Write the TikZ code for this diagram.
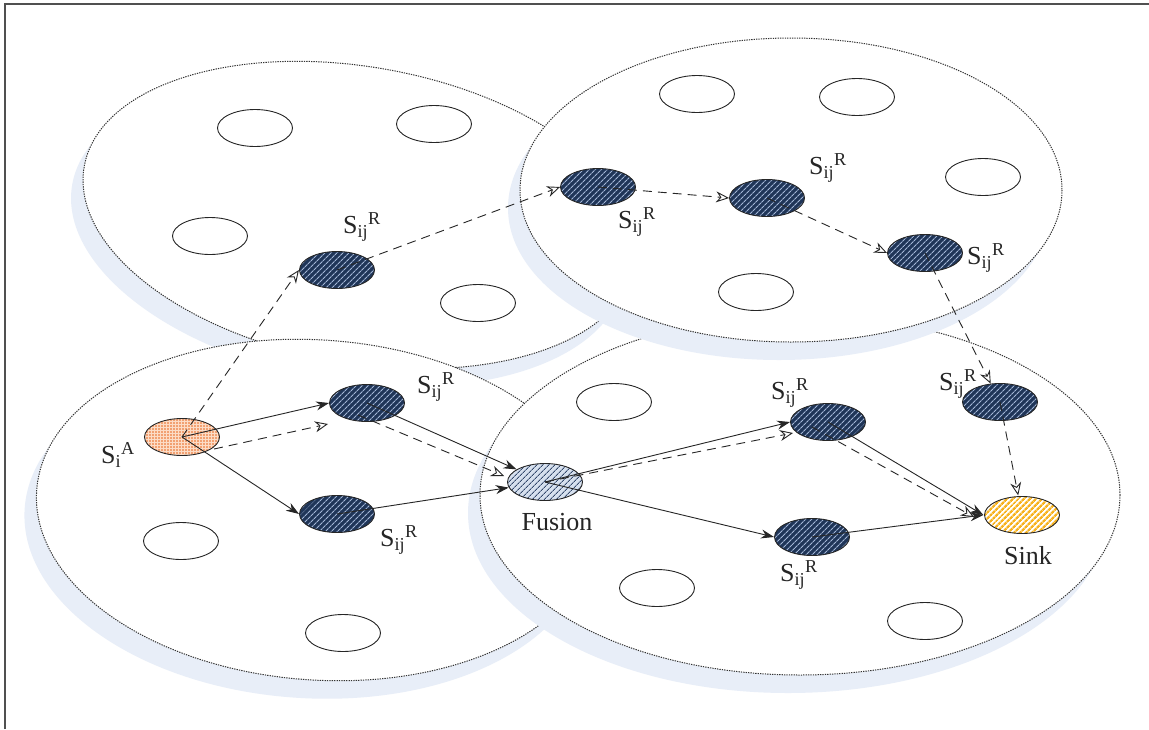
\documentclass[tikz,border=0pt]{standalone}
\usepackage{fontspec}
\setmainfont{Liberation Serif}
\usetikzlibrary{shapes.geometric,arrows.meta,patterns.meta,calc}
\definecolor{navy}{HTML}{1F3558}
\definecolor{navyline}{HTML}{A3B6D6}
\definecolor{shadowc}{HTML}{E8EEF8}
\definecolor{fusbase}{HTML}{D6E0EE}
\definecolor{fusline}{HTML}{34496C}
\definecolor{sinkc}{HTML}{F7B21E}
\definecolor{peach}{HTML}{FCDCC6}
\definecolor{dotc}{HTML}{E8661E}
\definecolor{framec}{HTML}{505050}
\newcommand\sijr{S\textsubscript{ij}\textsuperscript{R}}
\begin{document}
\begin{tikzpicture}[x=1pt,y=-1pt,
  region/.style={fill=white, draw=black!80, line width=1pt, dash pattern=on 1.3pt off 1.1pt},
  shadowfill/.style={fill=shadowc},
  nodebase/.style={ellipse, minimum width=75pt, minimum height=37pt, inner sep=0pt, draw=black!85, line width=0.9pt},
  emptynode/.style={nodebase, fill=white},
  relay/.style={nodebase, preaction={fill=navy}, pattern={Lines[angle=45,distance=4pt,line width=1.2pt]}, pattern color=navyline},
  fusionnode/.style={nodebase, preaction={fill=fusbase}, pattern={Lines[angle=45,distance=4pt,line width=1pt]}, pattern color=fusline},
  sinknode/.style={nodebase, preaction={fill=white}, pattern={Lines[angle=45,distance=4pt,line width=2.4pt]}, pattern color=sinkc},
  sourcenode/.style={nodebase, preaction={fill=peach}, pattern={Dots[distance=3pt,radius=0.8pt]}, pattern color=dotc},
  lab/.style={inner sep=0pt, font=\fontsize{26}{30}\selectfont, text=black!85},
  solidarrow/.style={line width=0.9pt, draw=black!85, -{Stealth[length=13pt,width=9pt]}},
  dasharrow/.style={line width=0.9pt, draw=black!85, dash pattern=on 9pt off 6pt, -{Stealth[length=13pt,width=11pt,fill=white]}}
]
\useasboundingbox (0,0) rectangle (1149,729);
\fill[white] (0,0) rectangle (1149,729);

% regions (shadow first, then white face)
\fill[shadowfill, rotate around={-10:(348,233)}] (348,233) ellipse [x radius=280, y radius=148];
\draw[region, rotate around={-10:(360,215)}] (360,215) ellipse [x radius=280, y radius=148];

\fill[shadowfill, rotate around={-4:(306,528)}] (306,528) ellipse [x radius=282, y radius=170];
\draw[region, rotate around={-4:(318,510)}] (318,510) ellipse [x radius=282, y radius=170];

\fill[shadowfill] (788,513) ellipse [x radius=320, y radius=180];
\draw[region] (800,495) ellipse [x radius=320, y radius=180];

\fill[shadowfill] (779,208) ellipse [x radius=271, y radius=152];
\draw[region] (791,190) ellipse [x radius=271, y radius=152];

% frame
\draw[framec, line width=1.2pt] (5,729) -- (5,4) -- (1149,4);

% empty sensor nodes
\node[emptynode] (e1) at (255,128) {};
\node[emptynode] (e2) at (434,124) {};
\node[emptynode] (e3) at (210,236) {};
\node[emptynode] (e4) at (478,303) {};
\node[emptynode] (e5) at (697,94) {};
\node[emptynode] (e6) at (857,97) {};
\node[emptynode] (e7) at (983,177) {};
\node[emptynode] (e8) at (756,292) {};
\node[emptynode] (e9) at (614,402) {};
\node[emptynode] (e10) at (181,541) {};
\node[emptynode] (e11) at (343,633) {};
\node[emptynode] (e12) at (657,588) {};
\node[emptynode] (e13) at (925,621) {};

% relay nodes
\node[relay] (Ntl) at (337,270) {};
\node[relay] (Ntr1) at (598,187) {};
\node[relay] (Ntr2) at (767,198) {};
\node[relay] (Ntr3) at (925,253) {};
\node[relay] (N8) at (1000,402) {};
\node[relay] (N1) at (367,403) {};
\node[relay] (N2) at (337,514) {};
\node[relay] (N7) at (828,422) {};
\node[relay] (N9) at (812,537) {};
\node[sourcenode] (SA) at (182,437) {};
\node[fusionnode] (Fu) at (545,482) {};
\node[sinknode] (Sk) at (1022,515) {};

% labels
\node[lab] (L1) at (362,227) {\sijr};
\node[lab] (L2) at (637,222) {\sijr};
\node[lab] (L3) at (828,168) {\sijr};
\node[lab] (L4) at (986,258) {\sijr};
\node[lab] (L5) at (436,387) {\sijr};
\node[lab] (L6) at (399,540) {\sijr};
\node[lab] (L7) at (790,393) {\sijr};
\node[lab] (L8) at (958,384) {\sijr};
\node[lab] (L9) at (799,575) {\sijr};
\node[lab] (L10) at (118,455) {S\textsubscript{i}\textsuperscript{A}};
\node[lab] (L11) at (557,522) {Fusion};
\node[lab] (L12) at (1028,556) {Sink};

% helper coordinates for the parallel dashed routes
\coordinate (c0) at (214,449);
\coordinate (c1) at (328,424);
\coordinate (c2) at (358,415);
\coordinate (c3) at (504,476);
\coordinate (c4) at (793,433);
\coordinate (c5) at (812,427);
\coordinate (c6) at (974,517);

% solid routes
\draw[solidarrow] (SA.center) -- (N1.west);
\draw[solidarrow] (SA.center) -- (N2.west);
\draw[solidarrow] (N1.center) -- (Fu);
\draw[solidarrow] (N2.center) -- (Fu);
\draw[solidarrow] (Fu.center) -- (N7.west);
\draw[solidarrow] (Fu.center) -- (N9.west);
\draw[solidarrow] (N7.center) -- (Sk.west);
\draw[solidarrow] (N9.center) -- (Sk.west);

% dashed routes
\draw[dasharrow] (SA.center) -- (Ntl.west);
\draw[dasharrow] (Ntl.center) -- (Ntr1.west);
\draw[dasharrow] (Ntr1.center) -- (Ntr2.west);
\draw[dasharrow] (Ntr2.center) -- (Ntr3.west);
\draw[dasharrow] (Ntr3.center) -- (N8);
\draw[dasharrow] (N8.center) -- (Sk);
\draw[dasharrow] (c0) -- (c1);
\draw[dasharrow] (c2) -- (c3);
\draw[dasharrow] (Fu.center) -- (c4);
\draw[dasharrow] (c5) -- (c6);
\end{tikzpicture}
\end{document}
